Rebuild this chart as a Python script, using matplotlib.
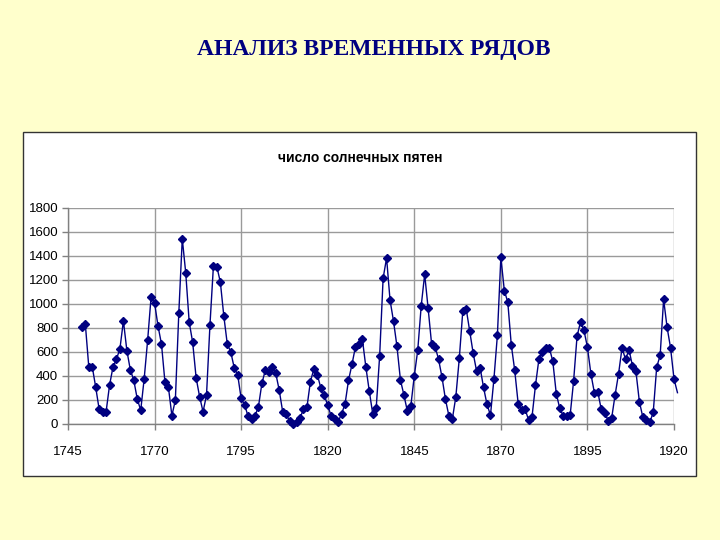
import matplotlib.pyplot as plt
from matplotlib.patches import Rectangle
from matplotlib.ticker import MultipleLocator

# yearly sunspot numbers (x10), 1749 - 1921
years = list(range(1749, 1922))
spots = [
    809, 834, 477, 478, 307, 122, 96, 102, 324, 476,
    540, 629, 859, 612, 451, 364, 209, 114, 378, 698,
    1061, 1008, 816, 665, 348, 306, 70, 198, 925, 1544,
    1259, 848, 681, 385, 228, 102, 241, 829, 1320, 1309,
    1181, 899, 666, 600, 469, 410, 213, 160, 64, 41,
    68, 145, 340, 450, 431, 475, 422, 281, 101, 81,
    25, 0, 14, 50, 122, 139, 354, 458, 411, 301,
    239, 156, 66, 40, 18, 85, 166, 363, 496, 642,
    670, 709, 478, 275, 85, 132, 569, 1215, 1383, 1032,
    857, 646, 367, 242, 107, 150, 401, 615, 985, 1247,
    963, 666, 645, 541, 390, 206, 67, 43, 227, 548,
    938, 958, 772, 591, 440, 470, 305, 163, 73, 376,
    740, 1390, 1112, 1016, 662, 447, 170, 113, 124, 34,
    60, 323, 543, 597, 637, 635, 522, 254, 131, 68,
    63, 71, 356, 730, 851, 780, 640, 418, 262, 267,
    121, 95, 27, 50, 244, 420, 635, 538, 620, 485,
    439, 186, 57, 36, 14, 96, 474, 571, 1039, 806,
    636, 376, 261,
]
x_ticks = [1745, 1770, 1795, 1820, 1845, 1870, 1895, 1920]
title = 'АНАЛИЗ ВРЕМЕННЫХ РЯДОВ'
chart_title = 'число солнечных пятен'

navy = '#000080'
plt.rcParams['font.family'] = ['Liberation Sans', 'DejaVu Sans']

fig = plt.figure(figsize=(7.2, 5.4), dpi=100)
fig.patch.set_facecolor('#FFFFCC')

# white chart box
fig.patches.append(Rectangle((22.5 / 720, 1 - 476 / 540), 673.5 / 720, 344 / 540,
                             transform=fig.transFigure, facecolor='white',
                             edgecolor='#333333', linewidth=1.0, zorder=-5))

fig.text(0.519, 1 - 49 / 540, title, ha='center', va='center', color=navy,
         fontsize=17, fontweight='bold', family=['Liberation Serif', 'DejaVu Serif'])
fig.text(0.50, 1 - 158 / 540, chart_title, ha='center', va='center', color='black',
         fontsize=10, fontweight='bold')

ax = fig.add_axes([68 / 720, 1 - 424 / 540, 606 / 720, 216 / 540])
ax.set_facecolor('white')
n = len(years) - 1
ax.plot(years, spots, color=navy, linewidth=1.0, marker='D', markersize=4.5,
        markevery=list(range(n)), clip_on=False, zorder=3)

ax.set_xlim(x_ticks[0], x_ticks[-1])
ax.set_ylim(0, 1800)
ax.set_xticks(x_ticks)
ax.yaxis.set_major_locator(MultipleLocator(200))
ax.grid(True, color='#9a9a9a', linewidth=1.0)
ax.set_axisbelow(True)
for s in ['top', 'right']:
    ax.spines[s].set_visible(False)
for s in ['left', 'bottom']:
    ax.spines[s].set_color('#808080')
    ax.spines[s].set_linewidth(1.0)
ax.tick_params(axis='y', direction='out', length=4, width=1, color='#808080',
               labelsize=9.5, pad=3)
ax.tick_params(axis='x', direction='out', length=4, width=1, color='#808080',
               labelsize=9.5, pad=12)

fig.savefig('out.png', dpi=100, facecolor=fig.get_facecolor())
